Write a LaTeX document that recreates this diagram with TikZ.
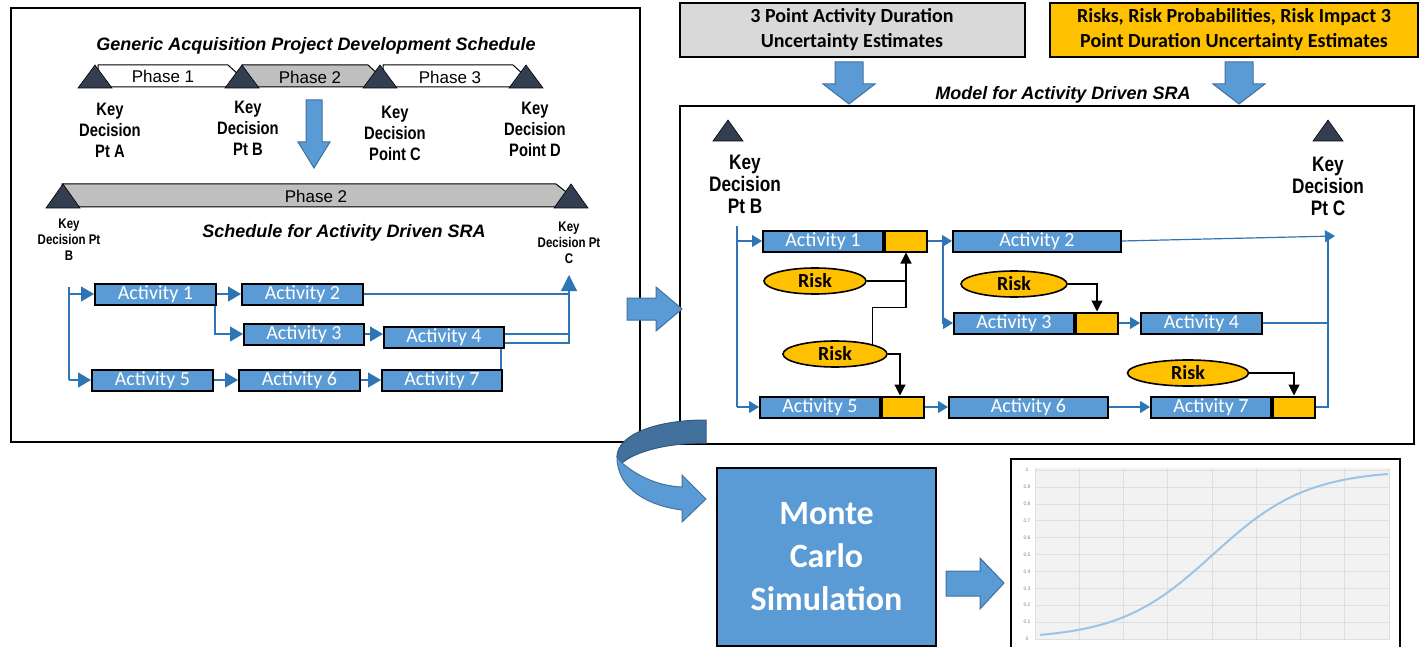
\documentclass[tikz,border=0pt]{standalone}
\usepackage{fontspec}
\setmainfont{Liberation Sans}
\newfontfamily\calfont{Carlito}
\newfontfamily\narrowfont[FakeStretch=0.82]{Liberation Sans}
\usetikzlibrary{arrows.meta,shapes.geometric}

\definecolor{actblue}{HTML}{5B9BD5}
\definecolor{lineblue}{HTML}{2E75B6}
\definecolor{edgeblue}{HTML}{41719C}
\definecolor{riskorange}{HTML}{FFC000}
\definecolor{kdnavy}{HTML}{333F50}
\definecolor{phasegray}{HTML}{BFBFBF}
\definecolor{inputgray}{HTML}{D9D9D9}
\definecolor{curveblue}{HTML}{9DC3E6}
\definecolor{plotgray}{HTML}{F2F2F2}

\tikzset{
  act/.style={draw=black, line width=2pt, fill=actblue, text=white, inner sep=0pt,
    minimum height=21pt, anchor=west, font=\calfont\fontsize{20}{20}\selectfont},
  riskbox/.style={draw=black, line width=2pt, fill=riskorange, inner sep=0pt,
    minimum height=21pt, minimum width=42pt, anchor=west},
  risk/.style={ellipse, draw=black, line width=1.6pt, fill=riskorange, inner sep=0pt,
    minimum height=26pt, font=\calfont\bfseries\fontsize{20}{20}\selectfont},
  conn/.style={draw=lineblue, line width=1.2pt},
  connarr/.style={conn, -{Triangle[length=13pt,width=15pt]}},
  connarrs/.style={conn, -{Triangle[length=10pt,width=12pt]}},
  riskline/.style={draw=black, line width=1.2pt},
  riskarr/.style={riskline, -{Triangle[length=11pt,width=11pt]}},
  kdtri/.style={fill=kdnavy, draw=black, line width=0.6pt},
  phase/.style={draw=black, line width=1pt},
  phaselabel/.style={font=\fontsize{17}{17}\selectfont},
  keylabel/.style={align=center, font=\narrowfont\bfseries\fontsize{18}{21}\selectfont},
  keysmall/.style={align=center, font=\narrowfont\bfseries\fontsize{14}{16}\selectfont},
  keybig/.style={align=center, font=\narrowfont\bfseries\fontsize{21}{22}\selectfont},
  title/.style={font=\bfseries\itshape\fontsize{18}{18}\selectfont},
  inbox/.style={draw=black, line width=2pt, align=center, minimum height=54pt,
    font=\calfont\bfseries\fontsize{20}{25}\selectfont},
  blockarr/.style={fill=actblue, draw=edgeblue, line width=1pt},
  ticklab/.style={text=gray, font=\fontsize{5}{5}\selectfont, inner sep=0pt}
}

\begin{document}
\begin{tikzpicture}[x=1pt, y=-1pt]
  \useasboundingbox (0,0) rectangle (1421,647);

  % left panel
  \node[draw=black, line width=2pt, minimum width=629pt, minimum height=434pt, inner sep=0pt] (lpanel) at (325.5,225) {};
  \node[title] (ltitle) at (316,46) {Generic Acquisition Project Development Schedule};

  \draw[phase, fill=white] (98,65) -- (228,65) -- (240,76) -- (228,87) -- (98,87) -- cycle;
  \draw[phase, fill=phasegray] (242,65) -- (368,65) -- (380,76) -- (368,87) -- (242,87) -- cycle;
  \draw[phase, fill=white] (383,65) -- (513,65) -- (525,76) -- (513,87) -- (383,87) -- cycle;
  \node[phaselabel] (ph1) at (163,76) {Phase 1};
  \node[phaselabel] (ph2) at (310,77) {Phase 2};
  \node[phaselabel] (ph3) at (450,77) {Phase 3};
  \foreach \x in {95,242,380,526}
    \draw[kdtri] (\x-17,88) -- (\x,65) -- (\x+17,88) -- cycle;

  \node[keylabel] (kdA) at (110,130) {Key\\Decision\\Pt A};
  \node[keylabel] (kdB) at (248,128) {Key\\Decision\\Pt B};
  \node[keylabel] (kdC) at (395,133) {Key\\Decision\\Point C};
  \node[keylabel] (kdD) at (535,129) {Key\\Decision\\Point D};

  \draw[blockarr] (306,100) -- (322,100) -- (322,142) -- (330,142) -- (314,168) -- (298,142) -- (306,142) -- cycle;

  \draw[phase, fill=phasegray] (62,184) -- (556,184) -- (570,195) -- (556,207) -- (62,207) -- cycle;
  \node[phaselabel] (ph2long) at (316,196) {Phase 2};
  \foreach \x in {63,571}
    \draw[kdtri] (\x-17,208) -- (\x,184) -- (\x+17,208) -- cycle;

  \node[keysmall] (kdBs) at (69,240) {Key\\Decision Pt\\B};
  \node[keysmall] (kdCs) at (569,243) {Key\\Decision Pt\\C};
  \node[title] (stitle) at (344,233) {Schedule for Activity Driven SRA};

  \node[act, minimum width=121pt] (la1) at (94,294) {Activity 1};
  \node[act, minimum width=121pt] (la2) at (241,294) {Activity 2};
  \node[act, minimum width=120pt] (la3) at (243,334) {Activity 3};
  \node[act, minimum width=120pt] (la4) at (383,337) {Activity 4};
  \node[act, minimum width=121pt] (la5) at (91,380) {Activity 5};
  \node[act, minimum width=121pt] (la6) at (238,380) {Activity 6};
  \node[act, minimum width=120pt] (la7) at (381,380) {Activity 7};

  \coordinate (ltop) at (69,287);
  \coordinate (lbot) at (69,380);
  \coordinate (lend) at (569,275);
  \draw[conn] (ltop) -- (lbot);
  \draw[connarr] (ltop |- la1.west) -- (la1.west);
  \draw[connarr] (lbot) -- (la5.west);
  \draw[connarr] (la1.east) -- (la2.west);
  \draw[connarr] ([xshift=-2pt]la1.south east) |- (la3.west);
  \draw[connarr] (la3.east) -- (la3.east -| la4.west);
  \draw[connarr] (la5.east) -- (la6.west);
  \draw[connarr] (la6.east) -- (la7.west);
  \draw[conn] (la2.east) -- (la2.east -| lend);
  \draw[conn, -{Triangle[length=16pt,width=16pt]}] ([yshift=3pt]la4.east) -| (lend);
  \draw[conn] ([yshift=-6pt]la4.east) -| ([yshift=3pt]la4.east -| lend);
  \draw[conn] ([xshift=-2pt]la7.north east) -- ([xshift=-2pt]la7.north east |- la4.south);

  % inputs
  \node[inbox, fill=inputgray, minimum width=345pt] (dur) at (852,30) {3 Point Activity Duration\\Uncertainty Estimates};
  \node[inbox, fill=riskorange, minimum width=368pt] (rsk) at (1234,30) {Risks, Risk Probabilities, Risk Impact 3\\Point Duration Uncertainty Estimates};
  \draw[blockarr] (835,62) -- (863,62) -- (863,84) -- (875,84) -- (849,104) -- (823,84) -- (835,84) -- cycle;
  \draw[blockarr] (1225,62) -- (1253,62) -- (1253,84) -- (1265,84) -- (1239,104) -- (1213,84) -- (1225,84) -- cycle;
  \node[title] (mtitle) at (1063,95) {Model for Activity Driven SRA};

  % right panel
  \node[draw=black, line width=2pt, minimum width=734pt, minimum height=338pt, inner sep=0pt] (rpanel) at (1047,275) {};
  \draw[blockarr] (627,298) -- (656,298) -- (656,287) -- (682,309) -- (656,331) -- (656,320) -- (627,320) -- cycle;

  \foreach \x in {728,1328}
    \draw[kdtri] (\x-15,141) -- (\x,120) -- (\x+15,141) -- cycle;
  \node[keybig] (kdBr) at (745,184) {Key\\Decision\\Pt B};
  \node[keybig] (kdCr) at (1328,186) {Key\\Decision\\Pt C};

  \node[act, minimum width=120pt] (ra1) at (762,241) {Activity 1};
  \node[riskbox] (ra1r) at (ra1.east) {};
  \node[act, minimum width=168pt] (ra2) at (952,241) {Activity 2};
  \node[act, minimum width=120pt] (ra3) at (953,323) {Activity 3};
  \node[riskbox] (ra3r) at (ra3.east) {};
  \node[act, minimum width=121pt] (ra4) at (1140,323) {Activity 4};
  \node[act, minimum width=120pt] (ra5) at (759,407) {Activity 5};
  \node[riskbox] (ra5r) at (ra5.east) {};
  \node[act, minimum width=159pt] (ra6) at (948,407) {Activity 6};
  \node[act, minimum width=120pt] (ra7) at (1150,407) {Activity 7};
  \node[riskbox] (ra7r) at (ra7.east) {};

  \node[risk, minimum width=102pt] (rk1) at (815,281) {Risk};
  \node[risk, minimum width=106pt] (rk2) at (1014,284) {Risk};
  \node[risk, minimum width=104pt] (rk3) at (835,354) {Risk};
  \node[risk, minimum width=121pt] (rk4) at (1188,373) {Risk};

  \coordinate (rtop) at (737,226);
  \coordinate (rbot) at (737,407);
  \coordinate (rend) at (1335,236);
  \coordinate (rjoin) at (1328,240);
  \coordinate (rkjoin) at ([yshift=-55pt]ra1r.south);
  \draw[conn] (rtop) -- (rbot);
  \draw[connarrs] (rtop |- ra1.west) -- (ra1.west);
  \draw[connarrs] (rbot) -- (ra5.west);
  \draw[connarrs] (ra1r.east) -- (ra2.west);
  \draw[connarrs] ([xshift=15pt]ra1r.east) |- (ra3.west);
  \draw[connarrs] (ra3r.east) -- (ra4.west);
  \draw[connarrs] (ra5r.east) -- (ra6.west);
  \draw[connarrs] (ra6.east) -- (ra7.west);
  \draw[connarrs] (ra2.east) -- (rend);
  \draw[conn] (ra7r.east) -| (rjoin);
  \draw[conn] (ra4.east) -- (ra4.east -| rjoin);

  \draw[riskarr] (rk3.north east) |- (rkjoin) -- (ra1r.south);
  \draw[riskline] (rk1.east) -- (rk1.east -| rkjoin);
  \draw[riskarr] (rk3.east) -| ([xshift=-3pt]ra5r.north);
  \draw[riskarr] (rk2.east) -| (ra3r.north);
  \draw[riskarr] (rk4.east) -| (ra7r.north);

  % simulation
  \draw[fill=edgeblue, draw=edgeblue!80!black, line width=1pt] (706,420) .. controls (655,420) and (617,435) .. (617,457)
    -- (622,463) .. controls (635,452) and (665,443) .. (706,443) -- cycle;
  \draw[blockarr] (617,457) -- (622,463) .. controls (640,478) and (660,486) .. (682,487) -- (682,475)
    -- (706,499) -- (682,522) -- (682,510) .. controls (650,506) and (617,490) .. (617,457) -- cycle;
  \node[draw=black, line width=2pt, fill=actblue, minimum width=219pt, minimum height=178pt,
    text=white, align=center, font=\calfont\bfseries\fontsize{34}{43}\selectfont] (mc) at (826.5,557) {Monte\\Carlo\\Simulation};
  \draw[blockarr] (946,571) -- (980,571) -- (980,558) -- (1004,583) -- (980,609) -- (980,596) -- (946,596) -- cycle;

  % result chart
  \node[draw=black, line width=1.2pt, minimum width=389pt, minimum height=190pt, inner sep=0pt] (cdf) at (1205.5,554) {};
  \fill[plotgray] (1035,468) rectangle (1389,640);
  \foreach \i in {0,...,8}
    \draw[gray!25, line width=0.6pt] (1035+44.25*\i,468) -- (1035+44.25*\i,640);
  \foreach \j/\t in {0/0,1/0.1,2/0.2,3/0.3,4/0.4,5/0.5,6/0.6,7/0.7,8/0.8,9/0.9,10/1} {
    \draw[gray!25, line width=0.6pt] (1035,639-16.9*\j) -- (1389,639-16.9*\j);
    \node[ticklab] (yl\j) at (1027,639-16.9*\j) {\t};
  }
  \draw[curveblue, line width=2pt] plot[domain=1040:1388, samples=100]
    (\x, {639-169/(1+exp(-1.702*(\x-1213)/80))});
\end{tikzpicture}
\end{document}
